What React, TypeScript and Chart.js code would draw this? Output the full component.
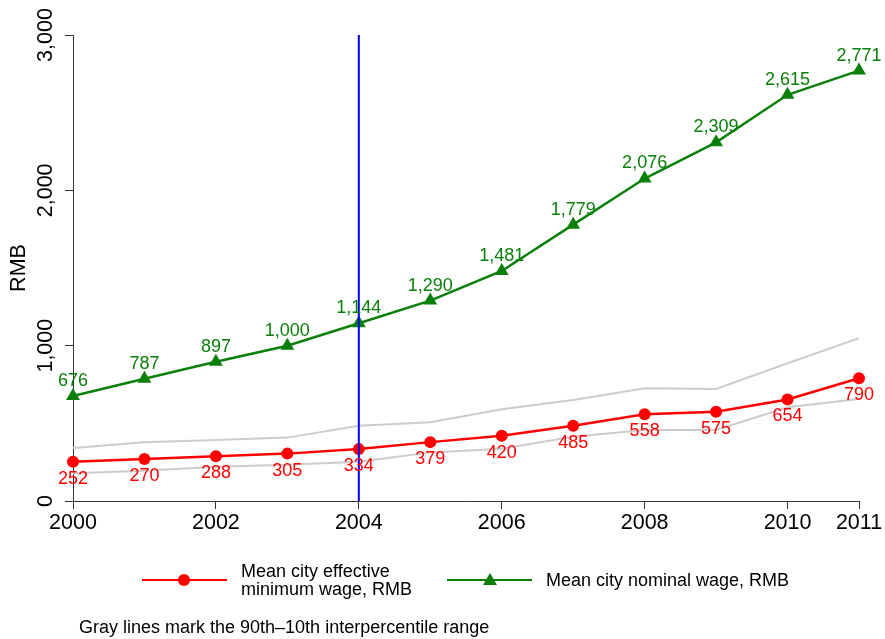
import { useEffect, useRef } from 'react';
import { Chart, registerables } from 'chart.js';

Chart.register(...registerables);

const years = [2000, 2001, 2002, 2003, 2004, 2005, 2006, 2007, 2008, 2009, 2010, 2011];
const minWage = [252, 270, 288, 305, 334, 379, 420, 485, 558, 575, 654, 790];
const nominalWage = [676, 787, 897, 1000, 1144, 1290, 1481, 1779, 2076, 2309, 2615, 2771];
const grayUpper = [341, 378, 393, 408, 485, 507, 590, 650, 726, 721, 887, 1048];
const grayLower = [178, 195, 221, 234, 253, 313, 337, 414, 457, 457, 603, 657];
const xTicks = [2000, 2002, 2004, 2006, 2008, 2010, 2011];
const yTicks = [0, 1000, 2000, 3000];
const markerYear = 2004;

const FONT = '"Liberation Sans", Arial, Helvetica, sans-serif';
const RED = '#ff0000';
const GREEN = '#0a800a';
const GRAY = '#cccccc';
const AXIS = '#333333';

const fmt = (v: number) => v.toLocaleString('en-US');

// value labels above / below the points, plus rotated y tick labels and y title
const labelPlugin = {
  id: 'valueLabels',
  afterDatasetsDraw(chart: any) {
    const ctx = chart.ctx;
    chart.data.datasets.forEach((ds: any, i: number) => {
      if (!ds.labelPos) return;
      const meta = chart.getDatasetMeta(i);
      ctx.save();
      ctx.font = `18px ${FONT}`;
      ctx.fillStyle = ds.borderColor;
      ctx.textAlign = 'center';
      ctx.textBaseline = 'middle';
      meta.data.forEach((pt: any, j: number) => {
        const v = ds.data[j].y;
        const dy = ds.labelPos === 'above' ? -15 : 17;
        ctx.fillText(fmt(v), pt.x, pt.y + dy);
      });
      ctx.restore();
    });
  },
  afterDraw(chart: any) {
    const ctx = chart.ctx;
    const y = chart.scales.y;
    ctx.save();
    ctx.fillStyle = '#000';
    ctx.font = `21.5px ${FONT}`;
    ctx.textAlign = 'center';
    ctx.textBaseline = 'middle';
    yTicks.forEach((t) => {
      const py = y.getPixelForValue(t);
      ctx.save();
      ctx.translate(46, py);
      ctx.rotate(-Math.PI / 2);
      ctx.fillText(fmt(t), 0, 0);
      ctx.restore();
    });
    const area = chart.chartArea;
    ctx.font = `21.5px ${FONT}`;
    ctx.translate(19, (area.top + area.bottom) / 2);
    ctx.rotate(-Math.PI / 2);
    ctx.fillText('RMB', 0, 0);
    ctx.restore();
  },
};

export default function App() {
  const canvasRef = useRef<HTMLCanvasElement>(null);
  const chartRef = useRef<Chart | null>(null);

  useEffect(() => {
    if (chartRef.current) {
      chartRef.current.destroy();
      chartRef.current = null;
    }
    const ctx = canvasRef.current?.getContext('2d');
    if (!ctx) return;

    const pts = (vals: number[]) => years.map((yr, i) => ({ x: yr, y: vals[i] }));

    chartRef.current = new Chart(ctx, {
      type: 'line',
      data: {
        datasets: [
          {
            data: pts(grayUpper),
            borderColor: GRAY,
            borderWidth: 2,
            pointRadius: 0,
            order: 5,
          },
          {
            data: pts(grayLower),
            borderColor: GRAY,
            borderWidth: 2,
            pointRadius: 0,
            order: 4,
          },
          {
            data: pts(minWage),
            borderColor: RED,
            backgroundColor: RED,
            borderWidth: 2.5,
            pointStyle: 'circle',
            pointRadius: 6,
            pointBorderWidth: 0,
            clip: false,
            order: 3,
            labelPos: 'below',
          } as any,
          {
            data: pts(nominalWage),
            borderColor: GREEN,
            backgroundColor: GREEN,
            borderWidth: 2.5,
            pointStyle: 'triangle',
            pointRadius: 8,
            pointBorderWidth: 0,
            clip: false,
            order: 2,
            labelPos: 'above',
          } as any,
          {
            data: [
              { x: markerYear, y: 0 },
              { x: markerYear, y: 3000 },
            ],
            borderColor: '#0000ff',
            borderWidth: 2,
            pointRadius: 0,
            order: 1,
          },
        ],
      },
      options: {
        animation: false,
        responsive: false,
        devicePixelRatio: 1,
        layout: { padding: { left: 0, right: 26, top: 35, bottom: 98 } },
        plugins: {
          legend: { display: false },
          tooltip: { enabled: false },
        },
        scales: {
          x: {
            type: 'linear',
            min: 2000,
            max: 2011,
            afterBuildTicks: (scale: any) => {
              scale.ticks = xTicks.map((v) => ({ value: v }));
            },
            afterFit: (scale: any) => {
              scale.height = 40;
            },
            grid: { drawOnChartArea: false, tickLength: 8, color: AXIS },
            border: { color: AXIS, width: 1 },
            ticks: {
              color: '#000',
              font: { family: FONT, size: 21.5 },
              padding: 1,
              maxRotation: 0,
              autoSkip: false,
              callback: (v: any) => String(v),
            },
          },
          y: {
            min: 0,
            max: 3000,
            afterBuildTicks: (scale: any) => {
              scale.ticks = yTicks.map((v) => ({ value: v }));
            },
            afterFit: (scale: any) => {
              scale.width = 73;
            },
            grid: { drawOnChartArea: false, tickLength: 8, color: AXIS },
            border: { color: AXIS, width: 1 },
            ticks: {
              color: 'rgba(0,0,0,0)',
              font: { family: FONT, size: 20 },
              callback: (v: any) => fmt(v),
            },
          },
        },
      },
      plugins: [labelPlugin],
    });

    return () => {
      if (chartRef.current) {
        chartRef.current.destroy();
        chartRef.current = null;
      }
    };
  }, []);

  const text: React.CSSProperties = {
    position: 'absolute',
    fontFamily: FONT,
    fontSize: 18,
    color: '#000',
    lineHeight: '18px',
    whiteSpace: 'nowrap',
  };

  return (
    <div style={{ position: 'fixed', left: 0, top: 0, width: 885, height: 639, background: '#fff' }}>
      <canvas ref={canvasRef} width={885} height={639} style={{ position: 'absolute', left: 0, top: 0 }} />
      {/* legend */}
      <div style={{ position: 'absolute', left: 142, top: 579, width: 85, height: 2, background: RED }} />
      <div style={{ position: 'absolute', left: 178, top: 574, width: 12, height: 12, borderRadius: 6, background: RED }} />
      <div style={{ ...text, left: 241, top: 562 }}>
        Mean city effective
        <br />
        minimum wage, RMB
      </div>
      <div style={{ position: 'absolute', left: 447, top: 579, width: 85, height: 2, background: GREEN }} />
      <div
        style={{
          position: 'absolute',
          left: 483,
          top: 573,
          width: 0,
          height: 0,
          borderLeft: '7px solid transparent',
          borderRight: '7px solid transparent',
          borderBottom: `12px solid ${GREEN}`,
        }}
      />
      <div style={{ ...text, left: 546, top: 571 }}>Mean city nominal wage, RMB</div>
      <div style={{ ...text, left: 79, top: 618 }}>Gray lines mark the 90th–10th interpercentile range</div>
    </div>
  );
}
